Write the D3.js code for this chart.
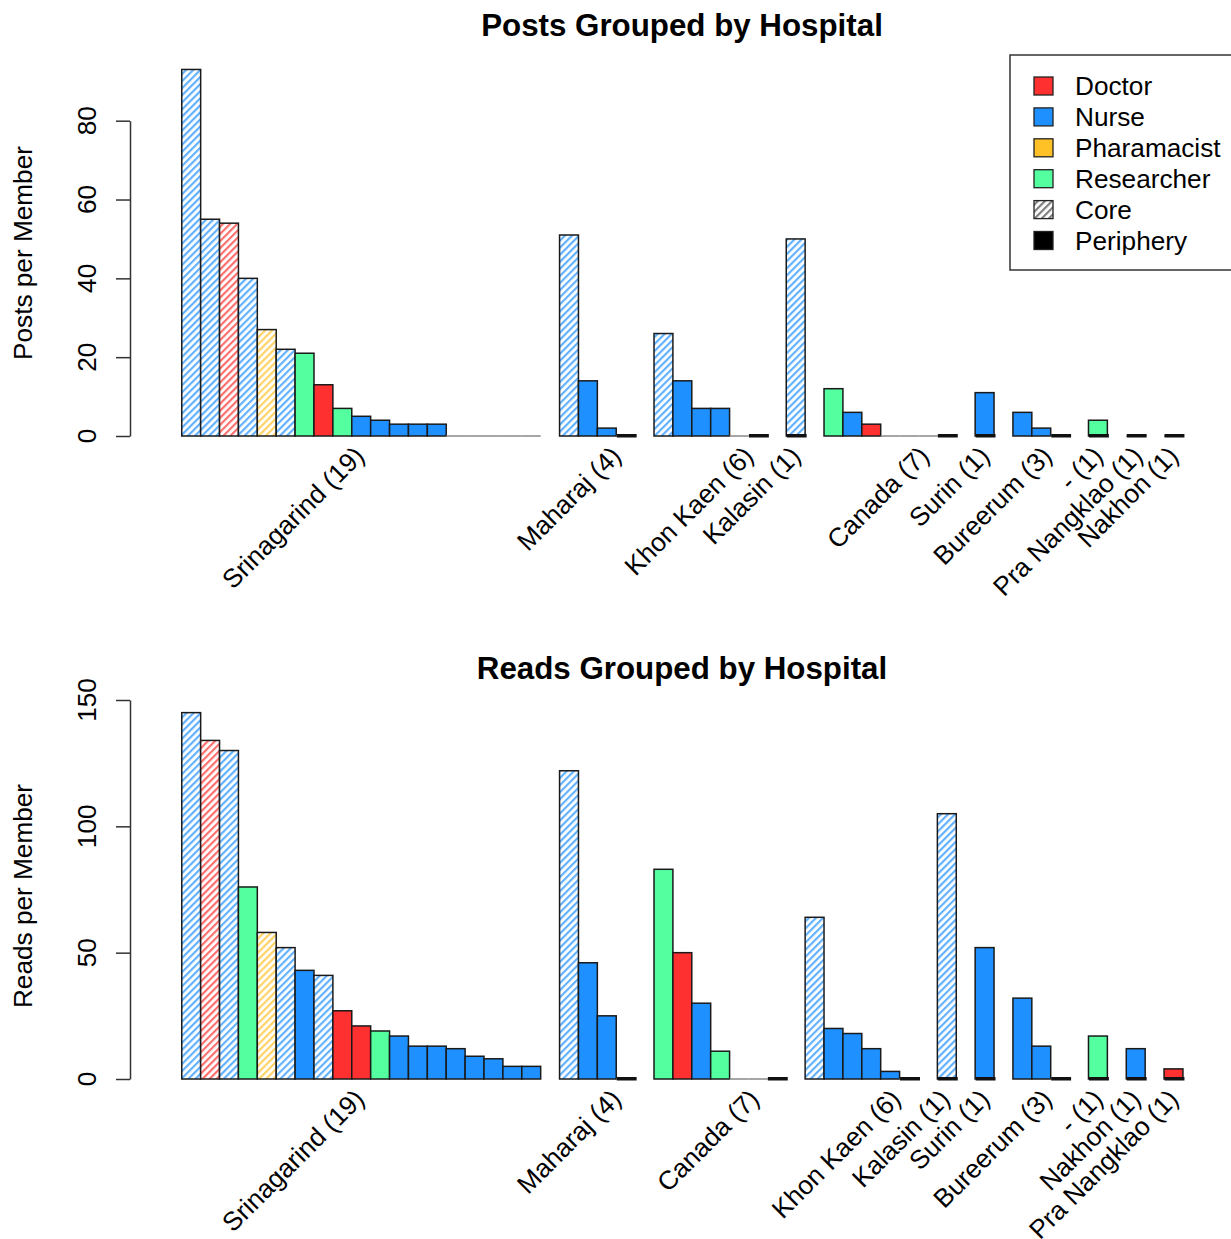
<!DOCTYPE html>
<html><head><meta charset="utf-8">
<script src="https://cdn.jsdelivr.net/npm/d3@7"></script>
<style>body{margin:0;background:#fff}svg{display:block}text{font-family:"Liberation Sans",Arial,Helvetica,sans-serif}</style>
</head><body>
<svg id="c" width="1231" height="1239"></svg>
<script>
// ---------- data ----------
const roleNames = ["Doctor","Nurse","Pharamacist","Researcher"];
const roleColors = ["#FF3030","#1E90FF","#FFC125","#54FF9F"];
const legendLabels = ["Doctor","Nurse","Pharamacist","Researcher","Core","Periphery"];

// Posts chart
const postsGroups = ["Srinagarind (19)","Maharaj (4)","Khon Kaen (6)","Kalasin (1)","Canada (7)","Surin (1)","Bureerum (3)","- (1)","Pra Nangklao (1)","Nakhon (1)"];
const postsValues = [
  [93,55,54,40,27,22,21,13,7,5,4,3,3,3,0,0,0,0,0],
  [51,14,2,0],
  [26,14,7,7,0,0],
  [50],
  [12,6,3,0,0,0,0],
  [11],
  [6,2,0],
  [4],
  [0],
  [0]
];
// role index: 0 Doctor, 1 Nurse, 2 Pharmacist, 3 Researcher
const postsRoles = [
  [1,1,0,1,2,1,3,0,3,1,1,1,1,1,1,1,1,1,1],
  [1,1,1,1],
  [1,1,1,1,1,1],
  [1],
  [3,1,0,3,0,1,1],
  [1],
  [1,1,1],
  [3],
  [1],
  [1]
];
const postsCore = [
  [1,1,1,1,1,1,0,0,0,0,0,0,0,0,0,0,0,0,0],
  [1,0,0,0],
  [1,0,0,0,0,0],
  [1],
  [0,0,0,0,0,0,0],
  [0],
  [0,0,0],
  [0],
  [0],
  [0]
];
const postsPeriphery = [0,1,1,1,1,1,1,1,1,1];
const postsLabelAt = [9.4,23.0,30.0,32.5,39.3,42.5,45.8,48.5,50.6,52.5];
const postsTicks = [0,20,40,60,80];

// Reads chart
const readsGroups = ["Srinagarind (19)","Maharaj (4)","Canada (7)","Khon Kaen (6)","Kalasin (1)","Surin (1)","Bureerum (3)","- (1)","Nakhon (1)","Pra Nangklao (1)"];
const readsValues = [
  [145,134,130,76,58,52,43,41,27,21,19,17,13,13,12,9,8,5,5],
  [122,46,25,0],
  [83,50,30,11,0,0,0],
  [64,20,18,12,3,0],
  [105],
  [52],
  [32,13,0],
  [17],
  [12],
  [4]
];
const readsRoles = [
  [1,0,1,3,2,1,1,1,0,0,3,1,1,1,1,1,1,1,1],
  [1,1,1,1],
  [3,0,1,3,3,0,1],
  [1,1,1,1,1,1],
  [1],
  [1],
  [1,1,1],
  [3],
  [1],
  [0]
];
const readsCore = [
  [1,1,1,0,1,1,0,1,0,0,0,0,0,0,0,0,0,0,0],
  [1,0,0,0],
  [0,0,0,0,0,0,0],
  [1,0,0,0,0,0],
  [1],
  [0],
  [0,0,0],
  [0],
  [0],
  [0]
];
const readsPeriphery = [0,1,1,1,1,1,1,1,1,1];
const readsLabelAt = [9.4,23.0,30.3,37.8,40.4,42.5,45.8,48.5,50.5,52.5];
const readsTicks = [0,50,100,150];

// ---------- drawing ----------
const svg = d3.select("#c");
const defs = svg.append("defs");
function hatch(id, color){
  const p = defs.append("pattern").attr("id",id).attr("patternUnits","userSpaceOnUse")
    .attr("width",5).attr("height",5).attr("patternTransform","rotate(45)");
  p.append("rect").attr("width",5).attr("height",5).attr("fill","#fff");
  p.append("rect").attr("x",0).attr("y",0).attr("width",2.2).attr("height",5).attr("fill",color).attr("opacity",0.7);
}
roleColors.forEach((c,i)=>hatch("h"+i,c));
hatch("hk","#444");

const FS = 26.2;
const x = d3.scaleLinear().domain([-2.74,55.74]).range([130,1234.7]);
const bw = x(1)-x(0);

function panel(cfg){
  const g = svg.append("g");
  const y = d3.scaleLinear().domain([0,cfg.ticks[cfg.ticks.length-1]]).range([cfg.base, cfg.topTickY]);
  let slot = 0;
  cfg.groups.forEach((name,gi)=>{
    const vals = cfg.values[gi];
    const start = slot;
    vals.forEach((v,i)=>{
      const s = start+i;
      const fill = cfg.core[gi][i] ? `url(#h${cfg.roles[gi][i]})` : roleColors[cfg.roles[gi][i]];
      if(v>0){
        g.append("rect").attr("x",x(s)).attr("y",y(v)).attr("width",bw).attr("height",y(0)-y(v))
          .attr("fill",fill).attr("stroke","#1a1a1a").attr("stroke-width",1.5);
      } else {
        g.append("line").attr("x1",x(s)).attr("x2",x(s+1)).attr("y1",y(0)).attr("y2",y(0))
          .attr("stroke","#888").attr("stroke-width",1.5);
      }
    });
    if(cfg.periph[gi]){
      const s = start+vals.length-1;
      g.append("rect").attr("x",x(s)+0.5).attr("y",y(0)-2).attr("width",bw+1).attr("height",3.5).attr("fill","#111");
    }
    const lx = x(cfg.labelAt[gi]);
    const ly = cfg.base+15;
    g.append("text").attr("transform",`translate(${lx},${ly}) rotate(-45)`)
      .attr("text-anchor","end").attr("dy","0.35em").attr("font-size",FS).attr("fill","#000").text(name);
    slot = start+vals.length+1;
  });
  const ax = g.append("g").attr("transform","translate(130,0)")
    .call(d3.axisLeft(y).tickValues(cfg.ticks).tickSize(14).tickSizeOuter(0).tickFormat(""));
  ax.selectAll("path,line").attr("stroke","#333").attr("stroke-width",1.5);
  cfg.ticks.forEach(t=>{
    g.append("text").attr("transform",`translate(87,${y(t)}) rotate(-90)`).attr("text-anchor","middle")
      .attr("dy","0.36em").attr("font-size",FS).text(t);
  });
  g.append("text").attr("transform",`translate(23,${cfg.ylabY}) rotate(-90)`).attr("text-anchor","middle")
    .attr("dy","0.36em").attr("font-size",FS).text(cfg.ylab);
  g.append("text").attr("x",682).attr("y",cfg.titleY).attr("text-anchor","middle").attr("dy","0.36em")
    .attr("font-size",31.3).attr("font-weight","bold").text(cfg.title);
}

panel({groups:postsGroups, values:postsValues, roles:postsRoles, core:postsCore, periph:postsPeriphery,
  labelAt:postsLabelAt, ticks:postsTicks, base:436, topTickY:120.7, ylab:"Posts per Member", ylabY:253,
  title:"Posts Grouped by Hospital", titleY:25});
panel({groups:readsGroups, values:readsValues, roles:readsRoles, core:readsCore, periph:readsPeriphery,
  labelAt:readsLabelAt, ticks:readsTicks, base:1079, topTickY:700, ylab:"Reads per Member", ylabY:896,
  title:"Reads Grouped by Hospital", titleY:668});

// legend
const lg = svg.append("g");
lg.append("rect").attr("x",1010).attr("y",55).attr("width",240).attr("height",215)
  .attr("fill","#fff").attr("stroke","#333").attr("stroke-width",1.5);
legendLabels.forEach((lab,i)=>{
  const cy = 86 + i*30.9;
  const fill = i<4 ? roleColors[i] : (i===4 ? "url(#hk)" : "#000");
  lg.append("rect").attr("x",1034).attr("y",cy-9).attr("width",19).attr("height",18)
    .attr("fill",fill).attr("stroke","#222").attr("stroke-width",1.3);
  lg.append("text").attr("x",1075).attr("y",cy).attr("dy","0.36em").attr("font-size",FS).text(lab);
});
</script>
</body></html>
